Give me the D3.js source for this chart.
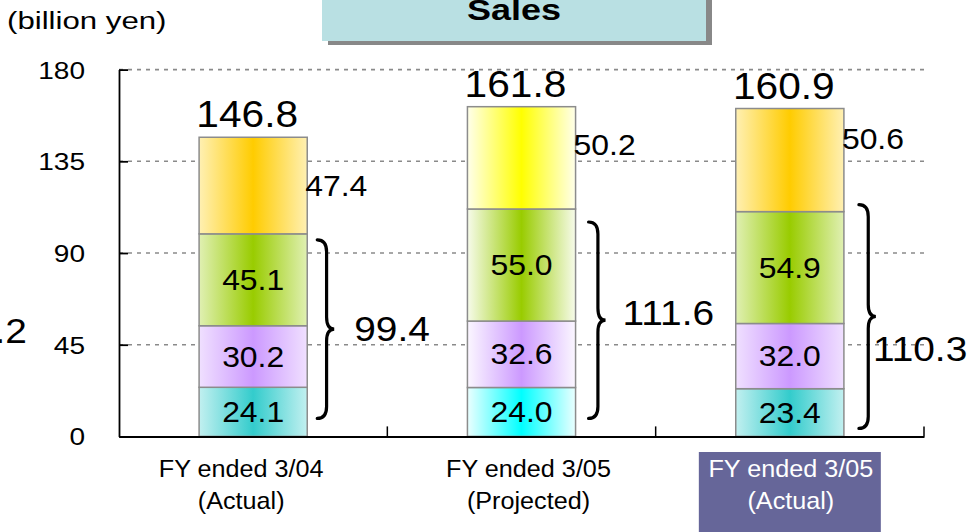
<!DOCTYPE html>
<html>
<head>
<meta charset="utf-8">
<script src="https://cdn.jsdelivr.net/npm/d3@7"></script>
<style>
  body { margin: 0; background: #fff; }
  svg { display: block; font-family: "Liberation Sans", Arial, sans-serif; }
</style>
</head>
<body>
<svg id="chart" width="972" height="532"></svg>
<script>
// data
const catLine1 = ["FY ended 3/04", "FY ended 3/05", "FY ended 3/05"];
const catLine2 = ["(Actual)", "(Projected)", "(Actual)"];
const seg1 = [24.1, 24.0, 23.4];
const seg2 = [30.2, 32.6, 32.0];
const seg3 = [45.1, 55.0, 54.9];
const seg4 = [47.4, 50.2, 50.6];
const subtotals = [99.4, 111.6, 110.3];
const totals = [146.8, 161.8, 160.9];
const yTicks = [0, 45, 90, 135, 180];

// styles
const centerColors = [
    ["#33cccc", "#00ffff", "#33cccc"],
    ["#cc99ff", "#cc99ff", "#cc99ff"],
    ["#99cc00", "#99cc00", "#99cc00"],
    ["#ffcc00", "#ffff00", "#ffcc00"]
];
const edgeWhite = [0.7, 0.92, 0.7];
// small per-bar nudges for annotations (px)
const sideLabelDy = [10, -3, -11];
const braceGap = [10, 13, 15];
const braceTopDy = [6, 13, -7];
const braceBottomDy = [-18, -18, -8];
const braceLabelDx = [20, 17, -3];
const braceLabelDy = [12, 5, 44];
const catLabelDx = [-12, 7, 1];

const svg = d3.select("#chart");
const plotLeft = 119, plotRight = 924, plotTop = 69.6, plotBottom = 436.4;

const x = d3.scaleBand().domain(d3.range(3)).range([plotLeft, plotRight]).padding(0);
const y = d3.scaleLinear().domain([0, 180]).range([plotBottom, plotTop]);
const barW = x.bandwidth() * 0.403;

function label(g, tx, ty, str, size, anchor, sx, opts) {
    opts = opts || {};
    return g.append("text")
        .attr("transform", `translate(${tx},${ty}) scale(${sx},1)`)
        .attr("text-anchor", anchor)
        .attr("font-size", size)
        .attr("font-weight", opts.weight || "normal")
        .attr("fill", opts.fill || "#000")
        .text(str);
}

// title box
svg.append("rect").attr("x", 328).attr("y", -1).attr("width", 384).attr("height", 46).attr("fill", "#888");
svg.append("rect").attr("x", 322).attr("y", -5).attr("width", 384).attr("height", 46).attr("fill", "#b9e0e3");
label(svg, 514, 20, "Sales", 30, "middle", 1.2, { weight: "bold" });

// unit
label(svg, 7, 29, "(billion yen)", 24, "start", 1.3);

// grid
svg.append("g").selectAll("line")
    .data(yTicks.filter(d => d > 0))
    .join("line")
    .attr("x1", plotLeft).attr("x2", plotRight)
    .attr("y1", d => y(d)).attr("y2", d => y(d))
    .attr("stroke", "#8a8a8a")
    .attr("stroke-width", 1.6)
    .attr("stroke-dasharray", "4,5");

// gradients
const defs = svg.append("defs");
const series = [seg1, seg2, seg3, seg4];
series.forEach((s, j) => {
    s.forEach((v, i) => {
        const c = centerColors[j][i];
        const edge = d3.interpolateRgb(c, "#fff")(edgeWhite[i]);
        const gr = defs.append("linearGradient").attr("id", `g${j}-${i}`)
            .attr("x1", 0).attr("x2", 1).attr("y1", 0).attr("y2", 0);
        gr.append("stop").attr("offset", 0).attr("stop-color", edge);
        gr.append("stop").attr("offset", 0.5).attr("stop-color", c);
        gr.append("stop").attr("offset", 1).attr("stop-color", edge);
    });
});

// stacked bars
const rows = d3.range(3).map(i => ({ i: i, s0: seg1[i], s1: seg2[i], s2: seg3[i], s3: seg4[i] }));
const stacked = d3.stack().keys(["s0", "s1", "s2", "s3"])(rows);

const barX = i => x(i) + (x.bandwidth() - barW) / 2;

stacked.forEach((layer, j) => {
    const g = svg.append("g");
    g.selectAll("rect")
        .data(layer)
        .join("rect")
        .attr("x", d => barX(d.data.i))
        .attr("width", barW)
        .attr("y", d => y(d[1]))
        .attr("height", d => y(d[0]) - y(d[1]))
        .attr("fill", d => `url(#g${j}-${d.data.i})`)
        .attr("stroke", "#8c8c8c")
        .attr("stroke-width", 1.5);

    // inner labels for bottom three segments, side labels for the top one
    if (j < 3) {
        layer.forEach(d => {
            const v = series[j][d.data.i];
            label(svg, barX(d.data.i) + barW / 2, (y(d[0]) + y(d[1])) / 2 + 10, v.toFixed(1), 29, "middle", 1.1);
        });
    } else {
        layer.forEach(d => {
            const i = d.data.i;
            label(svg, barX(i) + barW - 2, (y(d[0]) + y(d[1])) / 2 + sideLabelDy[i], seg4[i].toFixed(1), 29, "start", 1.1);
        });
    }
});

// totals
totals.forEach((t, i) => {
    label(svg, barX(i) + barW / 2 - 6, y(t) - 10, t.toFixed(1), 36, "middle", 1.13);
});

// braces
function bracePath(bx, y1, y2, w) {
    const ym = (y1 + y2) / 2, r = 12, h = bx + w * 0.55;
    return `M${bx},${y1} Q${h},${y1} ${h},${y1 + r} L${h},${ym - r} Q${h},${ym} ${bx + w},${ym}` +
        ` Q${h},${ym} ${h},${ym + r} L${h},${y2 - r} Q${h},${y2} ${bx},${y2}`;
}
subtotals.forEach((s, i) => {
    const bx = barX(i) + barW + braceGap[i];
    const y1 = y(s) + braceTopDy[i];
    const y2 = y(0) + braceBottomDy[i];
    const w = 17;
    svg.append("path")
        .attr("d", bracePath(bx, y1, y2, w))
        .attr("fill", "none")
        .attr("stroke", "#000")
        .attr("stroke-width", 3.2)
        .attr("stroke-linecap", "round");
    label(svg, bx + w + braceLabelDx[i], (y1 + y2) / 2 + braceLabelDy[i], s.toFixed(1), 36, "start", 1.08);
});

// partially hidden label at the left edge
label(svg, 27, 343, ".2", 36, "end", 1.08);

// y axis
const yAxis = svg.append("g")
    .attr("transform", `translate(${plotLeft},0)`)
    .call(d3.axisLeft(y).tickValues(yTicks).tickSizeInner(-9).tickSizeOuter(0).tickPadding(34).tickFormat(d3.format("d")));
yAxis.select(".domain").attr("stroke", "#000").attr("stroke-width", 1.8);
yAxis.selectAll(".tick line").attr("stroke", "#000").attr("stroke-width", 1.8);
yAxis.selectAll(".tick text")
    .attr("x", null).attr("dy", null)
    .attr("transform", "translate(-34,8.5) scale(1.22,1)")
    .attr("font-size", 23)
    .attr("font-family", "Liberation Sans, Arial, sans-serif")
    .attr("fill", "#000");

// x axis
const xAxis = svg.append("g")
    .attr("transform", `translate(0,${plotBottom})`)
    .call(d3.axisBottom(x).tickSize(0).tickFormat(""));
xAxis.select(".domain").attr("stroke", "#000").attr("stroke-width", 2);
svg.append("g").selectAll("line")
    .data(d3.range(3))
    .join("line")
    .attr("x1", i => x(i) + x.bandwidth()).attr("x2", i => x(i) + x.bandwidth())
    .attr("y1", plotBottom).attr("y2", plotBottom - 10)
    .attr("stroke", "#000").attr("stroke-width", 1.5);

// category labels
svg.append("rect").attr("x", x(2) + x.bandwidth() / 2 - 91).attr("y", 452).attr("width", 182).attr("height", 90).attr("fill", "#666699");
catLine1.forEach((t, i) => {
    const c = x(i) + x.bandwidth() / 2 + catLabelDx[i];
    const fill = i === 2 ? "#fff" : "#000";
    label(svg, c, 477, t, 24, "middle", 1.05, { fill: fill });
    label(svg, c, 509, catLine2[i], 24, "middle", 1.05, { fill: fill });
});
</script>
</body>
</html>
